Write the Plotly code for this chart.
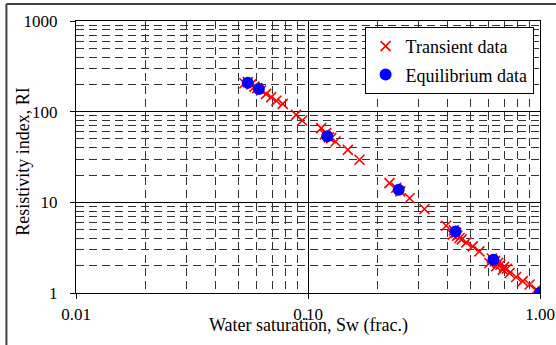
import plotly.graph_objects as go

# Transient data (Sw, RI)
transient_sw = [0.0532, 0.055, 0.057, 0.0588, 0.0605, 0.0628, 0.0660, 0.0694, 0.0730, 0.0778,
                0.0889, 0.0944, 0.114, 0.118, 0.1198, 0.123, 0.126, 0.1314, 0.1485, 0.1667,
                0.2244, 0.24, 0.25, 0.274, 0.3177, 0.394, 0.4207, 0.425, 0.435, 0.44,
                0.4498, 0.46, 0.481, 0.513, 0.548, 0.605, 0.62, 0.64, 0.647, 0.66,
                0.675, 0.692, 0.70, 0.72, 0.739, 0.789, 0.843, 0.902, 0.964, 1.0]
transient_ri = [206, 212, 200, 189, 182, 171, 157, 144.5, 132, 122,
                92.2, 79.8, 65.8, 56, 58.0, 52, 51.1, 46.9, 37.9, 29.5,
                16.3, 14.5, 13.2, 11.1, 8.44, 5.52, 4.40, 4.9, 4.6, 4.3,
                4.04, 3.9, 3.62, 3.27, 2.88, 2.14, 2.4, 2.25, 1.97, 2.15,
                2.05, 1.81, 1.95, 1.85, 1.66, 1.50, 1.35, 1.24, 1.09, 1.0]

# Equilibrium data (Sw, RI)
equil_sw = [0.055, 0.0614, 0.121, 0.246, 0.4325, 0.630, 1.0]
equil_ri = [209, 178, 53.7, 13.8, 4.78, 2.33, 1.0]

x_tickvals = [0.01, 0.1, 1.0]
x_ticktext = ["0.01", "0.10", "1.00"]
y_tickvals = [1, 10, 100, 1000]
y_ticktext = ["1", "10", "100", "1000"]
x_minor = [v * d for d in (0.01, 0.1) for v in range(2, 10)]
y_minor = [v * d for d in (1, 10, 100) for v in range(2, 10)]

FONT = "Liberation Serif, Times New Roman, serif"

fig = go.Figure()
fig.add_trace(go.Scatter(
    x=transient_sw, y=transient_ri, mode="markers", name="Transient data",
    legendgroup="a",
    marker=dict(symbol="x-thin-open", size=10, color="#FF0000",
                line=dict(color="#FF0000", width=1.6)),
))
fig.add_trace(go.Scatter(
    x=equil_sw, y=equil_ri, mode="markers", name="Equilibrium data",
    legendgroup="b",
    marker=dict(symbol="circle", size=12, color="#0000FF"),
))

axis_common = dict(
    type="log",
    automargin=False,
    showline=True, linecolor="black", linewidth=1, mirror=True,
    showgrid=True, gridcolor="black", gridwidth=1,
    ticks="outside", ticklen=5, tickcolor="black",
    tickfont=dict(family=FONT, size=17, color="black"),
    zeroline=False,
)

fig.update_xaxes(
    **axis_common,
    range=[-2, 0],
    tickvals=x_tickvals, ticktext=x_ticktext,
    ticklabelstandoff=1,
    minor=dict(tickvals=x_minor, showgrid=True, gridcolor="#333333",
               gridwidth=1, griddash="8px,5px", ticks=""),
)
fig.update_yaxes(
    **axis_common,
    range=[0, 3],
    tickvals=y_tickvals, ticktext=y_ticktext,
    ticklabelstandoff=9,
    minor=dict(tickvals=y_minor, showgrid=True, gridcolor="#333333",
               gridwidth=1, griddash="8px,5px", ticks=""),
)

fig.update_layout(
    width=556, height=345,
    margin=dict(l=76, r=16, t=21, b=52),
    paper_bgcolor="white", plot_bgcolor="white",
    font=dict(family=FONT, size=17, color="black"),
    showlegend=True,
    legend=dict(
        x=0.622, y=0.978, xanchor="left", yanchor="top",
        bgcolor="white", bordercolor="black", borderwidth=1,
        font=dict(family=FONT, size=18, color="black"),
        tracegroupgap=2,
    ),
    annotations=[
        dict(text="Water saturation, Sw (frac.)", xref="paper", yref="paper",
             x=0.5, y=-0.118, xanchor="center", yanchor="middle",
             showarrow=False, font=dict(family=FONT, size=18, color="black")),
        dict(text="Resistivity index, RI", xref="paper", yref="paper",
             x=-0.115, y=0.485, xanchor="center", yanchor="middle", textangle=-90,
             showarrow=False, font=dict(family=FONT, size=18, color="black")),
    ],
    shapes=[
        dict(type="line", xref="paper", yref="paper", x0=-0.15, x1=1.2,
             y0=1.0625, y1=1.0625, line=dict(color="#404040", width=2)),
        dict(type="line", xref="paper", yref="paper", x0=-0.15, x1=-0.15,
             y0=-0.3, y1=1.0625, line=dict(color="#404040", width=2)),
    ],
)

fig.write_html("out.html")
